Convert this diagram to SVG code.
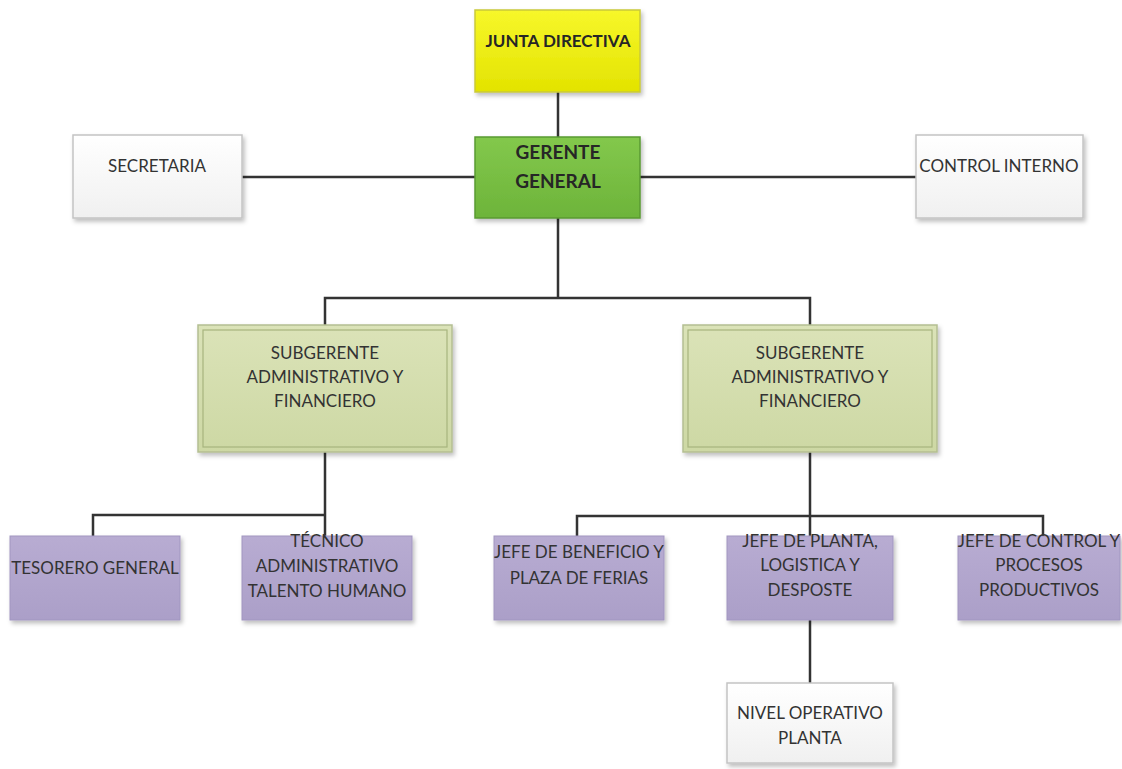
<svg xmlns="http://www.w3.org/2000/svg" width="1122" height="769" viewBox="0 0 1122 769">
<defs>
<filter id="sh" x="-10%" y="-10%" width="130%" height="130%">
<feDropShadow dx="2" dy="3" stdDeviation="2" flood-color="#000" flood-opacity="0.25"/>
</filter>
<linearGradient id="gY" x1="0" y1="0" x2="0" y2="1"><stop offset="0" stop-color="#f7f72a"/><stop offset="1" stop-color="#e3e300"/></linearGradient>
<linearGradient id="gG" x1="0" y1="0" x2="0" y2="1"><stop offset="0" stop-color="#83c84c"/><stop offset="1" stop-color="#6db43a"/></linearGradient>
<linearGradient id="gW" x1="0" y1="0" x2="0" y2="1"><stop offset="0" stop-color="#ffffff"/><stop offset="1" stop-color="#f0f0f0"/></linearGradient>
<linearGradient id="gO" x1="0" y1="0" x2="0" y2="1"><stop offset="0" stop-color="#dbe3b8"/><stop offset="1" stop-color="#cdd8a4"/></linearGradient>
<linearGradient id="gP" x1="0" y1="0" x2="0" y2="1"><stop offset="0" stop-color="#b8acd2"/><stop offset="1" stop-color="#ab9fc8"/></linearGradient>
</defs>
<style>
.t{font-family:Lato,"Liberation Sans",sans-serif;font-size:17px;fill:#333;text-anchor:middle}
.b{font-family:Lato,"Liberation Sans",sans-serif;font-size:17px;font-weight:bold;fill:#262626;text-anchor:middle}
.bg{font-size:19px}
.y{fill:url(#gY);stroke:#c9c93a;stroke-width:1.5;filter:url(#sh)}
.g{fill:url(#gG);stroke:#5a9a32;stroke-width:1.5;filter:url(#sh)}
.w{fill:url(#gW);stroke:#c4c4c4;stroke-width:1.5;filter:url(#sh)}
.o{fill:url(#gO);stroke:#b4be92;stroke-width:1.5;filter:url(#sh)}
.oi{fill:none;stroke:#a7b47e;stroke-width:1.2}
.p{fill:url(#gP);stroke:#a196c0;stroke-width:1;filter:url(#sh)}
.c{fill:none;stroke:#333;stroke-width:2.5}
</style>
<rect width="1122" height="769" fill="#fff"/>
<g id="connectors">
<path class="c" d="M558 92V137"/>
<path class="c" d="M242 177H475M640 177H916"/>
<path class="c" d="M558 218V298M325 325V298H810V325"/>
<path class="c" d="M325 452V515M93 536V515H325V536"/>
<path class="c" d="M810 452V536M577 536V516H1043V536"/>
<path class="c" d="M810 620V683"/>
</g>
<g id="junta"><rect class="y" x="475" y="10" width="165" height="82"/><text class="b" x="558" y="47">JUNTA DIRECTIVA</text></g>
<g id="gerente"><rect class="g" x="475" y="137" width="165" height="81"/><text class="b bg" x="558" y="159">GERENTE</text><text class="b bg" x="558" y="188">GENERAL</text></g>
<g id="secretaria"><rect class="w" x="73" y="135" width="169" height="83"/><text class="t" x="157" y="172">SECRETARIA</text></g>
<g id="control-interno"><rect class="w" x="916" y="135" width="167" height="83"/><text class="t" x="999" y="172">CONTROL INTERNO</text></g>
<g id="subgerente-1"><rect class="o" x="198" y="325" width="254" height="127"/><rect class="oi" x="203" y="330" width="244" height="117"/><text class="t" x="325" y="359">SUBGERENTE</text><text class="t" x="325" y="383">ADMINISTRATIVO Y</text><text class="t" x="325" y="407">FINANCIERO</text></g>
<g id="subgerente-2"><rect class="o" x="683" y="325" width="254" height="127"/><rect class="oi" x="688" y="330" width="244" height="117"/><text class="t" x="810" y="359">SUBGERENTE</text><text class="t" x="810" y="383">ADMINISTRATIVO Y</text><text class="t" x="810" y="407">FINANCIERO</text></g>
<g id="tesorero"><rect class="p" x="10" y="536" width="170" height="84"/><text class="t" x="95" y="574">TESORERO GENERAL</text></g>
<g id="tecnico"><rect class="p" x="242" y="536" width="170" height="84"/><text class="t" x="327" y="547">TÉCNICO</text><text class="t" x="327" y="572">ADMINISTRATIVO</text><text class="t" x="327" y="597">TALENTO HUMANO</text></g>
<g id="jefe-beneficio"><rect class="p" x="494" y="536" width="170" height="84"/><text class="t" x="579" y="558">JEFE DE BENEFICIO Y</text><text class="t" x="579" y="584">PLAZA DE FERIAS</text></g>
<g id="jefe-planta"><rect class="p" x="727" y="536" width="166" height="84"/><text class="t" x="810" y="547">JEFE DE PLANTA,</text><text class="t" x="810" y="571">LOGISTICA Y</text><text class="t" x="810" y="596">DESPOSTE</text></g>
<g id="jefe-control"><rect class="p" x="958" y="536" width="162" height="84"/><text class="t" x="1039" y="547">JEFE DE CONTROL Y</text><text class="t" x="1039" y="571">PROCESOS</text><text class="t" x="1039" y="596">PRODUCTIVOS</text></g>
<g id="nivel-operativo"><rect class="w" x="727" y="683" width="166" height="80"/><text class="t" x="810" y="719">NIVEL OPERATIVO</text><text class="t" x="810" y="744">PLANTA</text></g>
</svg>
